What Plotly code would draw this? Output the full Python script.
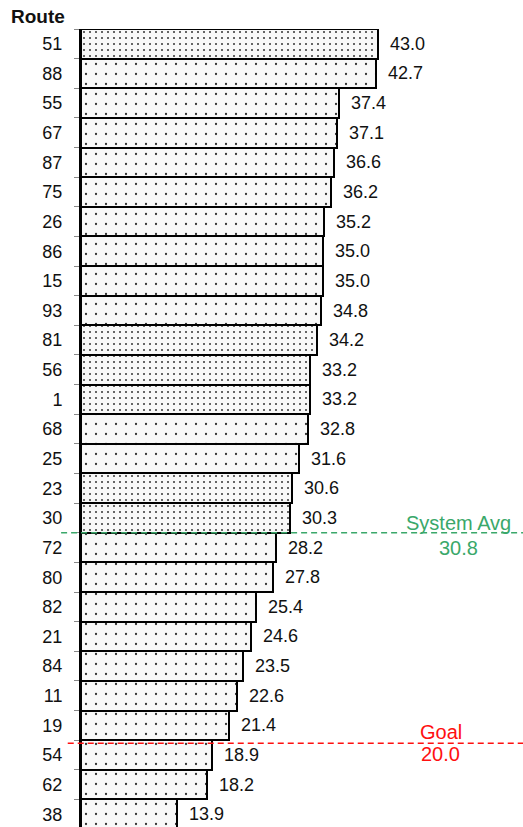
import plotly.graph_objects as go

routes = ["51", "88", "55", "67", "87", "75", "26", "86", "15", "93", "81", "56", "1", "68",
          "25", "23", "30", "72", "80", "82", "21", "84", "11", "19", "54", "62", "38"]
values = [43.0, 42.7, 37.4, 37.1, 36.6, 36.2, 35.2, 35.0, 35.0, 34.8, 34.2, 33.2, 33.2, 32.8,
          31.6, 30.6, 30.3, 28.2, 27.8, 25.4, 24.6, 23.5, 22.6, 21.4, 18.9, 18.2, 13.9]
group = ["A", "B", "B", "B", "B", "B", "B", "B", "B", "B", "A", "A", "A", "B",
         "B", "A", "A", "B", "B", "B", "B", "B", "B", "B", "B", "B", "B"]
system_avg = 30.8
goal = 20.0

pat_size = {"A": 6, "B": 10}
pat_sol = {"A": 0.09, "B": 0.04}

fig = go.Figure()
fig.add_trace(go.Bar(
    y=routes, x=values, orientation="h",
    marker=dict(
        color="#f8f8f8",
        line=dict(color="black", width=2),
        pattern=dict(shape=".", bgcolor="#f8f8f8", fgcolor="#333333",
                     size=[pat_size[g] for g in group],
                     solidity=[pat_sol[g] for g in group],
                     fillmode="replace"),
    ),
    hoverinfo="skip",
))

for i, v in enumerate(values):
    fig.add_annotation(x=v, y=i, text=f"{v:.1f}", showarrow=False, xanchor="left",
                       xshift=10, font=dict(size=18, color="#111111"))

avg_row = 16.5
goal_row = 23.6
fig.add_shape(type="line", xref="paper", x0=-0.045, x1=1, yref="y", y0=avg_row, y1=avg_row,
              line=dict(color="#3aa86a", width=1.5, dash="6px,4px"))
fig.add_shape(type="line", xref="paper", x0=-0.03, x1=1, yref="y", y0=goal_row, y1=goal_row,
              line=dict(color="#ff1010", width=1.5, dash="6px,4px"))

fig.add_annotation(x=54.7, y=avg_row, text="System Avg", showarrow=False, xanchor="center",
                   yanchor="middle", yshift=10, font=dict(size=20, color="#3aa86a"))
fig.add_annotation(x=54.7, y=avg_row, text=f"{system_avg:.1f}", showarrow=False, xanchor="center",
                   yanchor="middle", yshift=-15, font=dict(size=20, color="#3aa86a"))
fig.add_annotation(x=52.1, y=goal_row, text="Goal", showarrow=False, xanchor="center",
                   yanchor="middle", yshift=11, font=dict(size=20, color="#ff1010"))
fig.add_annotation(x=52.1, y=goal_row, text=f"{goal:.1f}", showarrow=False, xanchor="center",
                   yanchor="middle", yshift=-11, font=dict(size=20, color="#ff1010"))

fig.add_annotation(xref="paper", yref="paper", x=-0.163, y=1.0, xanchor="left", yanchor="bottom",
                   yshift=0, text="<b>Route</b>", showarrow=False,
                   font=dict(size=19, color="#111111"))

fig.update_layout(
    width=523, height=827,
    margin=dict(l=81, r=0, t=29, b=0, pad=0),
    paper_bgcolor="white", plot_bgcolor="white",
    bargap=0,
    showlegend=False,
    font=dict(family="Liberation Sans, Arial, sans-serif", color="#111111"),
    xaxis=dict(range=[0, 64], showticklabels=False, showgrid=False, zeroline=False,
               showline=False, ticks=""),
    yaxis=dict(type="category", categoryorder="array", categoryarray=routes,
               range=[26.43, -0.5], showline=True, linecolor="black", linewidth=2,
               showgrid=False, zeroline=False, tickson="boundaries", ticks="outside",
               ticklen=5, tickcolor="#888888", tickwidth=1, ticklabelstandoff=13,
               tickfont=dict(size=18, color="#111111")),
)

fig.write_html("out.html", config={"displayModeBar": False},
               post_script="document.body.style.margin='0';document.body.style.overflow='hidden';")
